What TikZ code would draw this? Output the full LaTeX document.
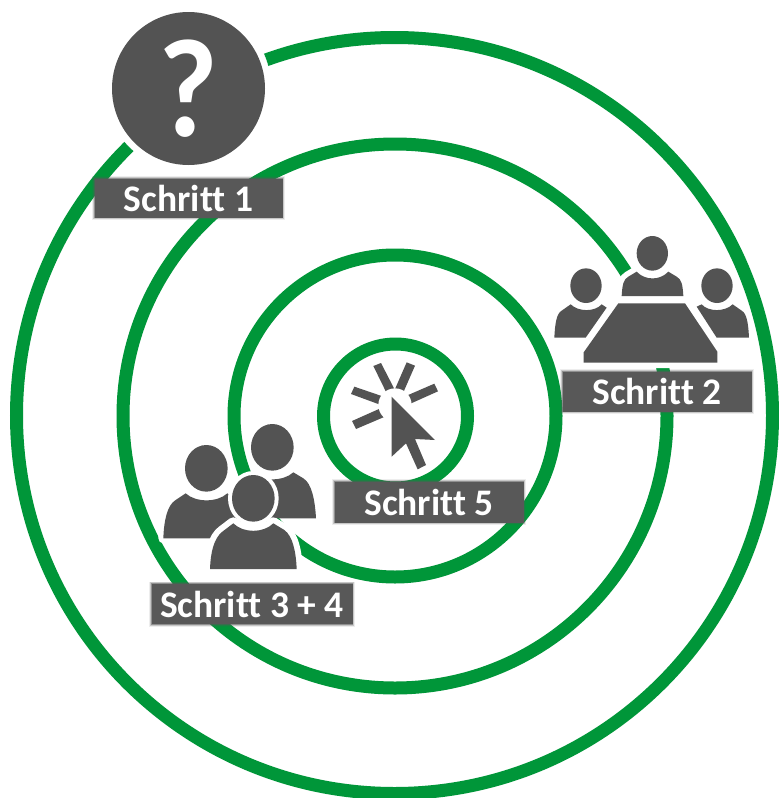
\documentclass[tikz,border=0pt]{standalone}
\usepackage{fontspec}
\setmainfont{Carlito}[Ligatures=NoCommon]
\definecolor{ringgreen}{RGB}{0,150,57}
\definecolor{icongray}{RGB}{83,83,83}
\definecolor{boxgray}{RGB}{88,88,88}
\tikzset{
  ring/.style={draw=ringgreen,line width=13pt},
  icon/.style={fill=icongray,draw=none},
  halo/.style={fill=white,draw=white,line join=round,line width=#1},
  halo/.default=10pt,
  lbl/.style={rectangle,fill=boxgray,inner sep=0pt,
    text=white,font=\fontsize{37.5}{37.5}\selectfont\bfseries,text depth=0pt,
    preaction={draw=boxgray,draw opacity=.10,line width=5pt},
    preaction={draw=boxgray,draw opacity=.25,line width=3.4pt},
    preaction={draw=boxgray,draw opacity=.5,line width=1.8pt}},
  zoomed/.style={shift={#1},xscale=1/3,yscale=1/3},
}
\begin{document}
\begin{tikzpicture}[x=1pt,y=-1pt]
\useasboundingbox (0,0) rectangle (779,798);
\fill[white] (0,0) rectangle (779,798);
% rings
\coordinate (c) at (395,416);
\draw[ring] (394.5,415.5) circle[radius=378];
\draw[ring] (c) circle[radius=272];
\draw[ring] (c) circle[radius=161];
\draw[ring] (395.5,416) circle[radius=72];

% question mark
\draw[white,fill=white] (188,88) circle[radius=83];
\node[circle,fill=icongray,minimum size=153pt,inner sep=0pt,text=white,
  font=\fontsize{140}{140}\selectfont\bfseries] (q) at (188.5,88.5) {\scalebox{.92}[1]{?}};

% meeting
\begin{scope}[zoomed={(540,220)}]
  \def\cbody{(245,228) .. controls (247,195) and (250,178) .. (265,170) -- (290,155) .. controls (315,182) and (360,182) .. (385,155) -- (410,170) .. controls (425,178) and (428,195) .. (430,228) -- cycle}
  \def\tbl{(235,250) -- (435,250) -- (532,395) -- (532,428) -- (131,428) -- (131,397) -- cycle}
  \path[halo=11pt] \cbody;
  \path[halo=11pt] \tbl;
  \path[halo=6pt] (245,228) rectangle (430,250);
  \path[halo=6pt] (337,100) ellipse[x radius=47,y radius=52];
  \fill[icon] (337,100) ellipse[x radius=47,y radius=52];
  \fill[icon] \cbody;
  \fill[icon] \tbl;
  \fill[icon] (138,197) ellipse[x radius=47,y radius=52];
  \fill[icon] (531,197) ellipse[x radius=47,y radius=52];
  \fill[icon] (43,353) .. controls (45,310) and (50,280) .. (65,272) -- (92,253) .. controls (115,276) and (165,276) .. (185,253) -- (200,263) -- (137,353) -- cycle;
  \fill[icon] (627,353) .. controls (625,310) and (620,280) .. (605,272) -- (578,253) .. controls (555,276) and (505,276) .. (485,253) -- (470,260) -- (530,353) -- cycle;
\end{scope}

% people
\begin{scope}[zoomed={(140,410)}]
  % back person
  \path[halo=8pt] (397,112) ellipse[x radius=64,y radius=70];
  \fill[icon] (397,112) ellipse[x radius=64,y radius=70];
  \fill[icon] (267,325) .. controls (270,270) and (280,225) .. (305,210) -- (335,187) .. controls (365,215) and (430,215) .. (460,187) -- (490,205) .. controls (515,220) and (525,270) .. (528,325) -- cycle;
  % left person
  \def\lbody{(70,385) .. controls (72,330) and (82,285) .. (107,270) -- (137,250) .. controls (167,278) and (232,278) .. (262,250) -- (292,270) .. controls (317,285) and (327,330) .. (330,385) -- cycle}
  \path[halo=10pt] \lbody;
  \path[halo=8pt] (199,175) ellipse[x radius=64,y radius=70];
  \fill[icon] (199,175) ellipse[x radius=64,y radius=70];
  \fill[icon] \lbody;
  % front person
  \def\fbody{(210,477) .. controls (212,425) and (222,385) .. (247,365) -- (280,340) .. controls (310,370) and (370,370) .. (400,340) -- (433,360) .. controls (458,378) and (468,425) .. (470,477) -- cycle}
  \path[halo=12pt] \fbody;
  \path[halo=8pt] (340,265) ellipse[x radius=64,y radius=70];
  \fill[icon] (340,265) ellipse[x radius=64,y radius=70];
  \fill[icon] \fbody;
\end{scope}

% cursor
\begin{scope}[zoomed={(320,340)}]
  \fill[icon] (160,78) -- (183,69) -- (235,170) -- (210,180) -- cycle;
  \fill[icon] (260,67) -- (285,77) -- (240,180) -- (215,170) -- cycle;
  \fill[icon] (343,131) -- (354,154) -- (240,205) -- (230,180) -- cycle;
  \fill[icon] (103,140) -- (93,162) -- (210,205) -- (220,180) -- cycle;
  \fill[icon] (96,243) -- (108,267) -- (230,215) -- (215,190) -- cycle;
  \fill[white] (225,195) circle[radius=50];
  \path[halo=5pt] (215,170) -- (345,300) -- (285,297) -- (318,375) -- (293,388) -- (258,310) -- (215,350) -- cycle;
  \fill[icon] (215,170) -- (345,300) -- (285,297) -- (318,375) -- (293,388) -- (258,310) -- (215,350) -- cycle;
\end{scope}

% labels
\node[lbl,minimum width=188pt,minimum height=39pt] (s1) at (188.5,198) {Schritt 1};
\node[lbl,minimum width=189pt,minimum height=40pt] (s2) at (657,391.5) {Schritt 2};
\node[lbl,minimum width=189pt,minimum height=41pt] (s5) at (429,502) {Schritt 5};
\node[lbl,minimum width=201pt,minimum height=40pt] (s34) at (252,604) {Schritt 3 + 4};
\end{tikzpicture}
\end{document}
